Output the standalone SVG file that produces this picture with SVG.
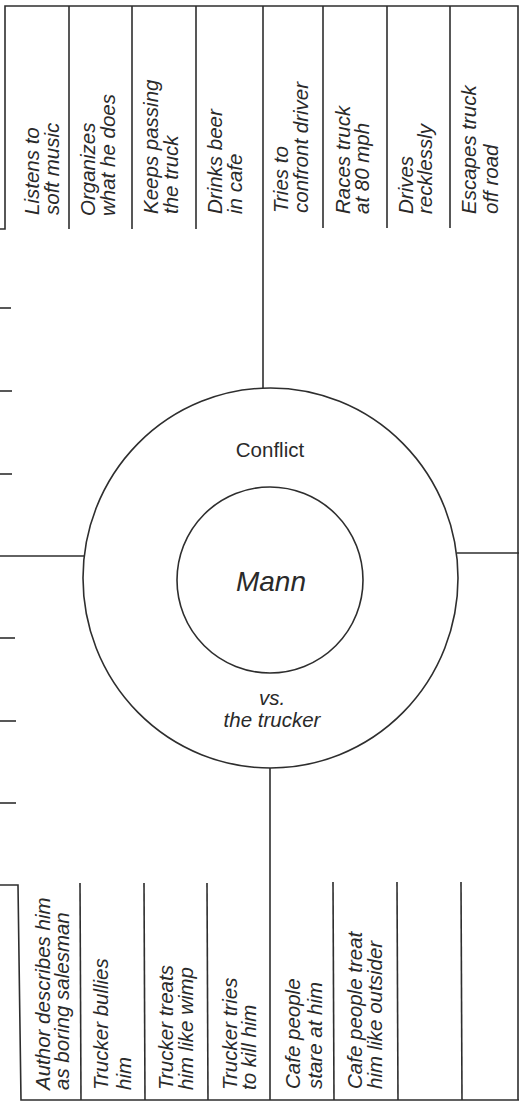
<svg xmlns="http://www.w3.org/2000/svg" width="519" height="1105" viewBox="0 0 519 1105">
<style>
.ln{stroke:#2e2e2e;stroke-width:1.6;fill:none}
.t{font-family:"Liberation Sans",Arial,sans-serif;font-style:italic;font-size:20.5px;fill:#2a2a2a}
.c{font-family:"Liberation Sans",Arial,sans-serif;font-size:20.5px;fill:#2a2a2a;text-anchor:middle}
</style>
<rect width="519" height="1105" fill="#fff"/>
<g id="connectors">
<line class="ln" x1="263" y1="6" x2="263" y2="388"/>
<line class="ln" x1="270" y1="768" x2="270" y2="1100"/>
<line class="ln" x1="0" y1="556" x2="84" y2="556"/>
<line class="ln" x1="457" y1="553" x2="519" y2="553"/>
<line class="ln" x1="0" y1="308" x2="11" y2="308"/>
<line class="ln" x1="0" y1="391" x2="12" y2="391"/>
<line class="ln" x1="0" y1="474" x2="12" y2="474"/>
<line class="ln" x1="0" y1="638" x2="15" y2="638"/>
<line class="ln" x1="0" y1="721" x2="16" y2="721"/>
<line class="ln" x1="0" y1="803" x2="16" y2="803"/>
</g>
<g id="center">
<ellipse class="ln" cx="270.5" cy="578" rx="187.5" ry="190"/>
<circle class="ln" cx="270" cy="580" r="93"/>
<text class="c" x="270" y="457">Conflict</text>
<text class="c" x="271" y="591" style="font-style:italic;font-size:28px">Mann</text>
<text class="c" x="272" y="705" style="font-style:italic">vs.</text>
<text class="c" x="272" y="727" style="font-style:italic">the trucker</text>
</g>
<g id="top-box">
<path class="ln" d="M0 229 H5 V6 H518 V1100"/>
<line class="ln" x1="69" y1="6" x2="69" y2="229"/>
<line class="ln" x1="132" y1="6" x2="132" y2="229"/>
<line class="ln" x1="196" y1="6" x2="196" y2="229"/>
<line class="ln" x1="323" y1="6" x2="323" y2="228"/>
<line class="ln" x1="387" y1="6" x2="387" y2="228"/>
<line class="ln" x1="450" y1="6" x2="450" y2="228"/>
<text class="t" transform="translate(39,215) rotate(-90)"><tspan x="0" y="0">Listens to</tspan><tspan x="0" dy="20">soft music</tspan></text>
<text class="t" transform="translate(95,216) rotate(-90)"><tspan x="0" y="0">Organizes</tspan><tspan x="0" dy="20">what he does</tspan></text>
<text class="t" transform="translate(158,214) rotate(-90)"><tspan x="0" y="0">Keeps passing</tspan><tspan x="0" dy="20">the truck</tspan></text>
<text class="t" transform="translate(222,214) rotate(-90)"><tspan x="0" y="0">Drinks beer</tspan><tspan x="0" dy="20">in cafe</tspan></text>
<text class="t" transform="translate(288,213) rotate(-90)"><tspan x="0" y="0">Tries to</tspan><tspan x="0" dy="20">confront driver</tspan></text>
<text class="t" transform="translate(350,214) rotate(-90)"><tspan x="0" y="0">Races truck</tspan><tspan x="0" dy="19">at 80 mph</tspan></text>
<text class="t" transform="translate(413,214) rotate(-90)"><tspan x="0" y="0">Drives</tspan><tspan x="0" dy="19">recklessly</tspan></text>
<text class="t" transform="translate(476,214) rotate(-90)"><tspan x="0" y="0">Escapes truck</tspan><tspan x="0" dy="22">off road</tspan></text>
</g>
<g id="bottom-box">
<path class="ln" d="M0 885 H18 L21 1100 H519"/>
<line class="ln" x1="80" y1="883" x2="81" y2="1100"/>
<line class="ln" x1="144" y1="883" x2="145" y2="1100"/>
<line class="ln" x1="207" y1="883" x2="208" y2="1100"/>
<line class="ln" x1="333" y1="882" x2="334" y2="1100"/>
<line class="ln" x1="397" y1="882" x2="398" y2="1100"/>
<line class="ln" x1="461" y1="882" x2="462" y2="1100"/>
<text class="t" transform="translate(50,1090) rotate(-90)"><tspan x="0" y="0">Author describes him</tspan><tspan x="0" dy="19">as boring salesman</tspan></text>
<text class="t" transform="translate(108,1090) rotate(-90)"><tspan x="0" y="0">Trucker bullies</tspan><tspan x="0" dy="23">him</tspan></text>
<text class="t" transform="translate(173,1090) rotate(-90)"><tspan x="0" y="0">Trucker treats</tspan><tspan x="0" dy="20">him like wimp</tspan></text>
<text class="t" transform="translate(237,1090) rotate(-90)"><tspan x="0" y="0">Trucker tries</tspan><tspan x="0" dy="19">to kill him</tspan></text>
<text class="t" transform="translate(300,1089) rotate(-90)"><tspan x="0" y="0">Cafe people</tspan><tspan x="0" dy="22">stare at him</tspan></text>
<text class="t" transform="translate(362,1089) rotate(-90)"><tspan x="0" y="0">Cafe people treat</tspan><tspan x="0" dy="20">him like outsider</tspan></text>
</g>
</svg>
